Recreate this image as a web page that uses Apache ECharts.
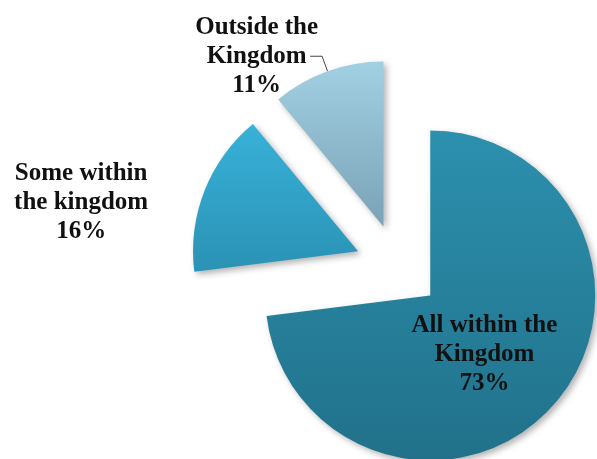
<!DOCTYPE html>
<html>
<head>
<meta charset="utf-8">
<script src="https://cdn.jsdelivr.net/npm/echarts@6/dist/echarts.min.js"></script>
<style>
  html, body { margin: 0; padding: 0; background: #fff; }
  #chart { width: 597px; height: 459px; }
</style>
</head>
<body>
<div id="chart"></div>
<script>
// data
const categories = ["All within the\nKingdom", "Some within\nthe kingdom", "Outside the\nKingdom"];
const values = [73, 16, 11];

// slice colours, top -> bottom of each slice
const sliceColors = [
  ["#2c90ae", "#21718a"],
  ["#38b1d8", "#2a92b5"],
  ["#a2d0e3", "#7aa2b6"],
];

const chart = echarts.init(document.getElementById("chart"));

const labelFont = {
  fontFamily: "Liberation Serif",
  fontWeight: "bold",
  fontSize: 25,
  lineHeight: 29,
  color: "#111",
  align: "center",
};

const data = values.map(function (v, i) {
  return {
    name: categories[i],
    value: v,
    selected: true,
    itemStyle: {
      color: new echarts.graphic.LinearGradient(0, 0, 0, 1, [
        { offset: 0, color: sliceColors[i][0] },
        { offset: 1, color: sliceColors[i][1] },
      ]),
    },
  };
});

// per slice label placement
data[0].label = { position: "inside" };
data[1].labelLine = { show: false, length: 8, length2: 44 };
data[2].labelLine = { show: true, length: 16, length2: 12 };
data[2].label = { distanceToLabelLine: -8 };

const option = {
  animation: false,
  series: [
    {
      type: "pie",
      center: [398, 267],
      radius: 165,
      startAngle: 90,
      clockwise: true,
      selectedMode: "multiple",
      selectedOffset: 43,
      avoidLabelOverlap: false,
      emphasis: { disabled: true },
      itemStyle: {
        shadowBlur: 6,
        shadowColor: "rgba(0,0,0,0.3)",
        shadowOffsetX: 3,
        shadowOffsetY: 3,
      },
      label: {
        show: true,
        position: "outside",
        formatter: function (p) {
          const lines = p.name.split("\n").concat([p.value + "%"]);
          return lines.map(function (s) { return "{c|" + s + "}"; }).join("\n");
        },
        rich: { c: labelFont },
      },
      labelLine: {
        lineStyle: { color: "#444", width: 1 },
        smooth: false,
      },
      labelLayout: function (params) {
        // small nudges so labels sit as in the original
        if (params.dataIndex === 0) return { dx: -10, dy: 3 };
        if (params.dataIndex === 1) return { dy: 15 };
        return {};
      },
      data: data,
    },
  ],
};

chart.setOption(option);
</script>
</body>
</html>
